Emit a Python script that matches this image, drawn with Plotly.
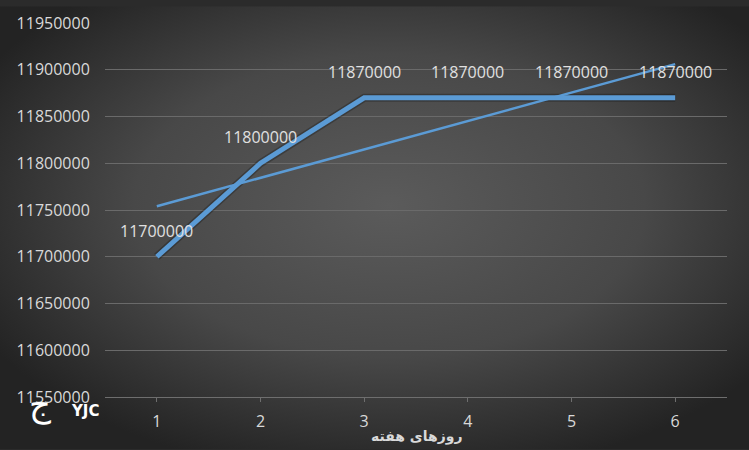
import base64
import plotly.graph_objects as go

# weekly values
days = [1, 2, 3, 4, 5, 6]
prices = [11700000, 11800000, 11870000, 11870000, 11870000, 11870000]
labels = ["11700000", "11800000", "11870000", "11870000", "11870000", "11870000"]

# linear trend at first and last day
trend_days = [1, 6]
trend_vals = [11754000, 11906000]

y_ticks = [11550000, 11600000, 11650000, 11700000, 11750000,
           11800000, 11850000, 11900000, 11950000]

W, H = 749, 450
L, R, T, B = 105, 22, 17, 53
pw, ph = W - L - R, H - T - B

# radial gradient background as svg
svg = (f'<svg xmlns="http://www.w3.org/2000/svg" width="{W}" height="{H}">'
       '<defs><radialGradient id="g" cx="52%" cy="45%" r="62%">'
       '<stop offset="0" stop-color="#5b5b5b"/>'
       '<stop offset="0.55" stop-color="#484848"/>'
       '<stop offset="1" stop-color="#232323"/>'
       '</radialGradient></defs>'
       f'<rect width="{W}" height="{H}" fill="url(#g)"/></svg>')
bg = "data:image/svg+xml;base64," + base64.b64encode(svg.encode()).decode()

fig = go.Figure()

# shadow under main line
fig.add_trace(go.Scatter(x=days, y=prices, mode="lines",
                         line=dict(color="rgba(0,0,0,0.25)", width=8),
                         hoverinfo="skip", showlegend=False))

fig.add_trace(go.Scatter(x=days, y=prices, mode="lines",
                         line=dict(color="#5b9bd5", width=5),
                         showlegend=False))

fig.add_trace(go.Scatter(x=trend_days, y=trend_vals, mode="lines",
                         line=dict(color="#5b9bd5", width=2.5),
                         showlegend=False))

# data labels sit well above each point
for d, p, t in zip(days, prices, labels):
    fig.add_annotation(x=d, y=p, text=t, showarrow=False, yshift=26,
                       font=dict(color="#e0e0e0", size=16, family="Open Sans"))

fig.update_layout(
    width=W, height=H,
    margin=dict(l=L, r=R, t=T, b=B),
    paper_bgcolor="#2b2b2b",
    plot_bgcolor="rgba(0,0,0,0)",
    images=[dict(source=bg, xref="paper", yref="paper",
                 x=-L / pw, y=1 + T / ph, sizex=W / pw, sizey=H / ph,
                 xanchor="left", yanchor="top", sizing="stretch",
                 layer="below")],
    xaxis=dict(range=[0.5, 6.5], tickmode="array", tickvals=days,
               ticktext=[str(d) for d in days],
               showgrid=False, zeroline=False,
               showline=True, linecolor="#6e6e6e", linewidth=1,
               ticks="outside", tickson="boundaries", ticklen=4,
               tickcolor="#6e6e6e", ticklabelstandoff=6,
               tickfont=dict(color="#d9d9d9", size=16, family="Open Sans")),
    yaxis=dict(range=[11550000, 11950000], tickmode="array", tickvals=y_ticks,
               ticktext=[str(v) for v in y_ticks],
               showgrid=True, gridcolor="#6a6a6a", gridwidth=1,
               zeroline=False, showline=False, ticks="outside", ticklen=11,
               tickcolor="rgba(0,0,0,0)",
               tickfont=dict(color="#d9d9d9", size=16, family="Open Sans")),
)

# axis title and YJC mark, placed in figure pixels
fig.add_annotation(text="<b>روزهای هفته</b>", xref="paper", yref="paper",
                   x=(416 - L) / pw, y=(H - 437 - B) / ph, showarrow=False,
                   xanchor="center", yanchor="middle",
                   font=dict(color="#d9d9d9", size=14, family="DejaVu Sans"))
fig.add_annotation(text="ج", xref="paper", yref="paper",
                   x=(40 - L) / pw, y=(H - 405 - B) / ph, showarrow=False,
                   xanchor="center", yanchor="middle",
                   font=dict(color="white", size=34, family="DejaVu Sans"))
fig.add_annotation(text="<b>YJC</b>", xref="paper", yref="paper",
                   x=(85 - L) / pw, y=(H - 411 - B) / ph, showarrow=False,
                   xanchor="center", yanchor="middle",
                   font=dict(color="white", size=15, family="DejaVu Sans"))

# drop the browser's default page margin so the chart fills the window
fig.write_html("out.html", config={"displayModeBar": False},
               post_script="document.body.style.margin='0';")
